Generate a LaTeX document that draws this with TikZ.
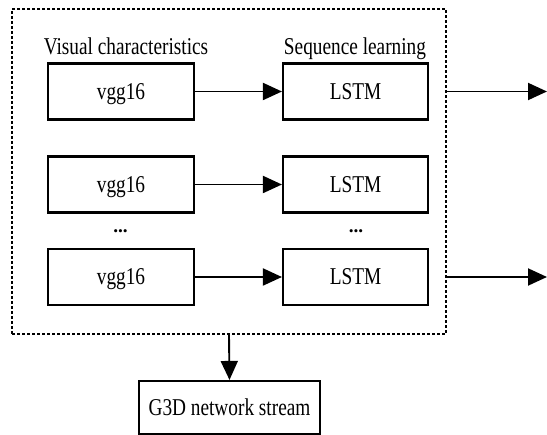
\documentclass[tikz,border=0pt]{standalone}
\usepackage{fontspec}
\setmainfont{Liberation Serif}
\usetikzlibrary{arrows.meta}
\newcommand\vst[1]{\scalebox{1}[1.25]{#1}}
\begin{document}
\begin{tikzpicture}[x=1pt,y=-1pt,
  box/.style={draw,line width=2.1pt,minimum height=56pt,inner sep=0pt,text height=16pt,text depth=0pt,font=\fontsize{19.3}{22}\selectfont},
  lbl/.style={inner sep=0pt,font=\fontsize{19.3}{22}\selectfont},
  conn/.style={line width=1.9pt,-{Triangle[length=19pt,width=17pt]}},
  frame/.style={draw,line width=1.8pt,dash pattern=on 3pt off 2pt,inner sep=0pt}]
\useasboundingbox (0,0) rectangle (547,435);
\node[frame,minimum width=434pt,minimum height=325pt] (fr) at (229,171.5) {};
\node[lbl,anchor=base] (t1) at (126,55) {\vst{Visual characteristics}};
\node[lbl,anchor=base] (t2) at (355,54.5) {\vst{Sequence learning}};
\node[box,minimum width=146pt] (v1) at (121,91.5) {\vst{vgg16}};
\node[box,minimum width=145pt] (l1) at (355.5,91.5) {\vst{LSTM}};
\node[box,minimum width=146pt] (v2) at (121,184.5) {\vst{vgg16}};
\node[box,minimum width=145pt] (l2) at (355.5,184.5) {\vst{LSTM}};
\node[box,minimum width=146pt] (v3) at (121,277) {\vst{vgg16}};
\node[box,minimum width=145pt] (l3) at (355.5,277) {\vst{LSTM}};
\node[lbl] (d1) at (120.5,231) {\textbf{...}};
\node[lbl] (d2) at (356,231) {\textbf{...}};
\node[box,minimum width=181pt,minimum height=53pt] (g) at (229.5,407.5) {\vst{G3D network stream}};
\coordinate (o1) at (547,91.5);
\coordinate (o3) at (547,277);
\draw[conn] (v1) -- (l1);
\draw[conn] (v2) -- (l2);
\draw[conn] (v3) -- (l3);
\draw[conn] (l1.east -| fr.east) -- (o1);
\draw[conn] (l3.east -| fr.east) -- (o3);
\draw[conn] (fr.south) -- (g.north);
\end{tikzpicture}
\end{document}
